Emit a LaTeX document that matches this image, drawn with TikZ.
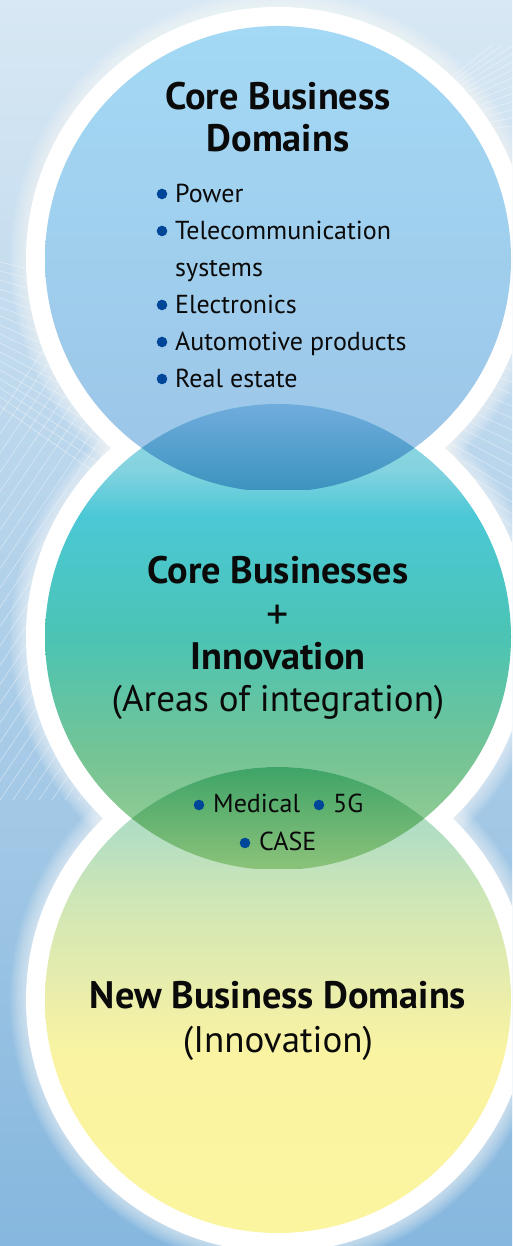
\documentclass[tikz,border=0pt]{standalone}
\usepackage{fontspec}
\setmainfont{PT Sans}
\usetikzlibrary{calc}
\definecolor{BgTop}{RGB}{216,232,244}
\definecolor{BgBot}{RGB}{134,183,222}
\definecolor{SkyTop}{RGB}{163,217,245}
\definecolor{SkyBot}{RGB}{156,196,230}
\definecolor{LensBlueTop}{RGB}{112,172,222}
\definecolor{LensBlueBot}{RGB}{60,148,190}
\definecolor{LensGreenTop}{RGB}{62,164,104}
\definecolor{LensGreenBot}{RGB}{140,194,122}
\definecolor{DotBlue}{RGB}{0,70,152}
\definecolor{InkBlack}{RGB}{10,10,10}
% middle disc: pale cyan top, teal centre, soft green bottom
\pgfdeclareverticalshading{midball}{100bp}{color(0bp)=(rgb,255:red,160;green,208;blue,148);
  color(25bp)=(rgb,255:red,160;green,208;blue,148);
  color(37bp)=(rgb,255:red,118;green,196;blue,148);
  color(50bp)=(rgb,255:red,75;green,196;blue,180);
  color(63bp)=(rgb,255:red,75;green,200;blue,214);
  color(68bp)=(rgb,255:red,132;green,211;blue,224);
  color(75bp)=(rgb,255:red,150;green,215;blue,228);
  color(100bp)=(rgb,255:red,150;green,215;blue,228)}
% lower disc: mint top into pale yellow
\pgfdeclareverticalshading{lowball}{100bp}{color(0bp)=(rgb,255:red,251;green,245;blue,160);
  color(25bp)=(rgb,255:red,251;green,245;blue,160);
  color(44bp)=(rgb,255:red,250;green,244;blue,162);
  color(50bp)=(rgb,255:red,236;green,238;blue,170);
  color(61bp)=(rgb,255:red,206;green,230;blue,182);
  color(68bp)=(rgb,255:red,178;green,222;blue,195);
  color(75bp)=(rgb,255:red,170;green,218;blue,198);
  color(100bp)=(rgb,255:red,170;green,218;blue,198)}
\tikzset{
  gridline/.style={white,opacity=0.45,line width=0.6pt},
  heading/.style={anchor=base,inner sep=0pt,text=InkBlack,font=\fontsize{38.3}{42}\bfseries},
  subline/.style={anchor=base,inner sep=0pt,text=InkBlack,font=\fontsize{37}{42}\selectfont},
  item/.style={anchor=base west,inner sep=0pt,text=InkBlack,font=\fontsize{26}{30}\selectfont},
}
\begin{document}
\begin{tikzpicture}[x=1pt,y=1pt]
\useasboundingbox (0,0) rectangle (512,1246);
\clip (0,0) rectangle (512,1246);
% backdrop
\shade[top color=BgTop,bottom color=BgBot] (0,0) rectangle (512,1246);
% faint wire grid on the sides
\begin{scope}
  \clip (0,446) rectangle (140,990);
  \foreach \k in {0,...,16}
    \draw[gridline] (0,984-\k*9) -- (140,950-\k*13);
  \foreach \k in {0,...,30}
    \draw[gridline] (-260+\k*13,446) -- ++(56:560);
\end{scope}
\begin{scope}
  \clip (400,700) rectangle (512,1200);
  \foreach \k in {0,...,16}
    \draw[gridline] (400,930-\k*9) -- (512,900-\k*12);
  \foreach \k in {0,...,12}
    \draw[gridline] (400,1105+\k*2) -- (512,1120+\k*8);
\end{scope}
\coordinate (top) at (278,987);
\coordinate (mid) at (278,609);
\coordinate (low) at (278,246);
% soft halo and white rims
\foreach \c in {top,mid,low} {
  \foreach \g in {1,...,10}
    \fill[white,opacity=0.07] (\c) circle (252+\g*1.6);
}
\foreach \c in {top,mid,low}
  \fill[white] (\c) circle (252);
% the three discs
\shade[top color=SkyTop,bottom color=SkyBot] (top) circle (233);
\shade[shading=midball] (mid) circle (233);
\shade[shading=lowball] (low) circle (233);
% overlaps
\begin{scope}
  \clip (top) circle (233);
  \clip (mid) circle (233);
  \shade[top color=LensBlueTop,bottom color=LensBlueBot] (45,756) rectangle (511,842);
\end{scope}
\begin{scope}
  \clip (mid) circle (233);
  \clip (low) circle (233);
  \shade[top color=LensGreenTop,bottom color=LensGreenBot] (45,377) rectangle (511,479);
\end{scope}
% core domains
\node[heading] (core1) at (278,1136) {Core Business};
\node[heading] (core2) at (278,1094) {Domains};
\foreach \y/\txt [count=\i] in {1043/Power,1006/Telecommunication,932/Electronics,895/Automotive products,858/Real estate} {
  \node[item] (dom\i) at (175,\y) {\txt};
  \fill[DotBlue] ($(dom\i.base west)+(-13,9)$) circle (5.3);
}
\node[item] (dom2b) at (175,969) {systems};
% integration
\node[heading] (integ1) at (278,662) {Core Businesses};
\node[inner sep=0pt,text=InkBlack,font=\fontsize{44}{48}\selectfont] (plus) at (278,629) {+};
\node[heading] (integ2) at (278,576) {Innovation};
\node[subline] (integ3) at (278,534) {(Areas of integration)};
\node[item] (med) at (213,433) {Medical};
\node[item] (fiveg) at (333,433) {5G};
\node[item] (case) at (259,395) {CASE};
\foreach \n in {med,fiveg,case}
  \fill[DotBlue] ($(\n.base west)+(-14,8)$) circle (5.3);
% new domains
\node[heading] (new1) at (278,237) {New Business Domains};
\node[subline] (new2) at (278,193) {(Innovation)};
\end{tikzpicture}
\end{document}
